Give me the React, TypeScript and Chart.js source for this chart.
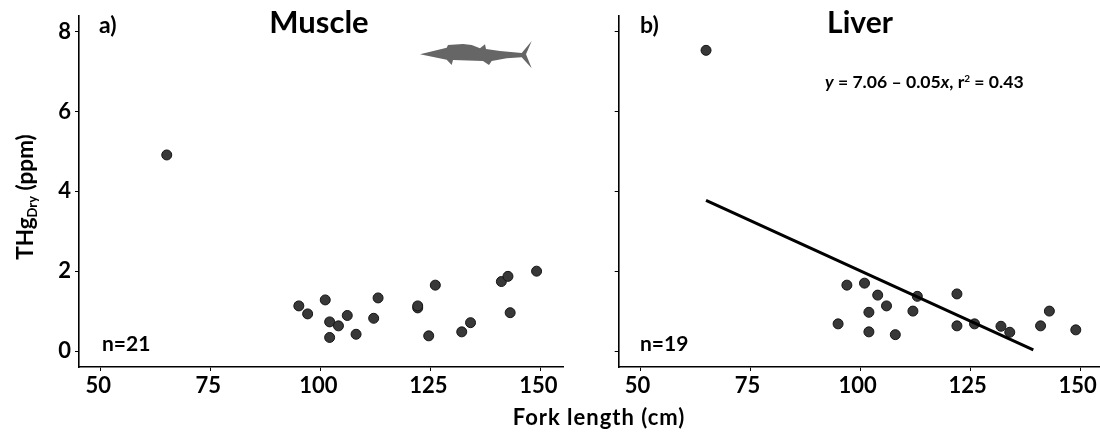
import React, { useEffect, useRef } from "react";
import { Chart, registerables } from "chart.js";

Chart.register(...registerables);

const xTicks = [50, 75, 100, 125, 150];
const yTicks = [0, 2, 4, 6, 8];

const muscleLength = [65, 95, 97, 101, 102, 102, 104, 106, 108, 112, 113, 122, 122, 124.5, 126, 132, 134, 141, 142.5, 143, 149];
const muscleHg = [4.91, 1.13, 0.93, 1.28, 0.73, 0.34, 0.63, 0.89, 0.42, 0.82, 1.33, 1.08, 1.13, 0.38, 1.65, 0.48, 0.71, 1.74, 1.87, 0.96, 2.0];

const liverLength = [65, 95, 97, 101, 102, 102, 104, 106, 108, 112, 113, 122, 122, 126, 132, 134, 141, 143, 149];
const liverHg = [7.53, 0.68, 1.65, 1.7, 0.97, 0.48, 1.4, 1.13, 0.41, 1.0, 1.37, 1.43, 0.63, 0.68, 0.62, 0.47, 0.63, 1.0, 0.53];

const fitLength = [65, 139.35];
const fitHg = [3.77, 0.03];

const FONT = "Lato, 'Open Sans', sans-serif";
const font = (size: number, italic = false) => `${italic ? "italic " : ""}bold ${size}px ${FONT}`;

function text(ctx: CanvasRenderingContext2D, s: string, x: number, y: number, size: number, align: CanvasTextAlign = "left", italic = false) {
  ctx.font = font(size, italic);
  ctx.textAlign = align;
  ctx.textBaseline = "alphabetic";
  ctx.fillStyle = "#000";
  ctx.fillText(s, x, y);
}

// Runs of text in mixed styles, left to right
function runs(ctx: CanvasRenderingContext2D, parts: [string, number, boolean?, number?][], x: number, y: number) {
  let cx = x;
  for (const [s, size, italic, dy] of parts) {
    text(ctx, s, cx, y + (dy || 0), size, "left", !!italic);
    cx += ctx.measureText(s).width;
  }
}

const fishOutline = [
  [420, 54.3], [446.7, 47.7], [448, 45], [463, 44], [471.7, 45], [480, 48.3], [485, 44.3], [486, 49],
  [500, 51], [521.7, 53], [531.7, 41], [526, 54.3], [531.7, 68.3], [521.7, 57.3], [506.7, 58.3],
  [491.7, 61], [489, 65], [483, 61], [453, 60], [451.7, 65], [446.7, 59.7],
];

const leftDecor = {
  id: "leftDecor",
  afterDraw(chart: any) {
    const ctx = chart.ctx as CanvasRenderingContext2D;
    ctx.save();
    text(ctx, "a)", 99, 33, 23);
    text(ctx, "Muscle", 319, 33, 31, "center");
    text(ctx, "n=21", 102, 351, 21);
    (ctx as any).letterSpacing = "1px";
    text(ctx, "Fork length (cm)", 599, 425, 22, "center");
    (ctx as any).letterSpacing = "0px";
    ctx.fillStyle = "#666";
    ctx.beginPath();
    fishOutline.forEach(([x, y], i) => (i ? ctx.lineTo(x, y) : ctx.moveTo(x, y)));
    ctx.closePath();
    ctx.fill();
    ctx.translate(33, 197);
    ctx.rotate(-Math.PI / 2);
    const parts: [string, number, boolean?, number?][] = [["THg", 22.5], ["Dry", 13, false, 4], [" (ppm)", 22.5]];
    let w = 0;
    parts.forEach(([s, size]) => { ctx.font = font(size); w += ctx.measureText(s).width; });
    runs(ctx, parts, -w / 2, 0);
    ctx.restore();
  },
};

const rightDecor = {
  id: "rightDecor",
  afterDraw(chart: any) {
    const ctx = chart.ctx as CanvasRenderingContext2D;
    ctx.save();
    text(ctx, "b)", 640, 33, 23);
    text(ctx, "Liver", 860, 33, 30, "center");
    text(ctx, "n=19", 640, 351, 21);
    runs(ctx, [["y", 17.6, true], [" = 7.06 – 0.05", 17.6], ["x", 17.6, true], [", r", 17.6], ["2", 10, false, -6], [" = 0.43", 17.6]], 825, 88);
    ctx.restore();
  },
};

function makeOptions(xMin: number, xMax: number, yWidth: number, paddingRight: number, showY: boolean) {
  const grid = { display: true, drawOnChartArea: false, drawTicks: true, tickLength: 4, color: "#000", lineWidth: 1 };
  const border = { display: true, color: "#000", width: 1.6 };
  return {
    responsive: false,
    animation: false as const,
    layout: { padding: { left: 0, right: paddingRight, top: 16, bottom: 0 } },
    plugins: { legend: { display: false }, tooltip: { enabled: false }, title: { display: false } },
    scales: {
      x: {
        type: "linear" as const,
        min: xMin,
        max: xMax,
        grid,
        border,
        afterBuildTicks: (s: any) => { s.ticks = xTicks.map((value) => ({ value })); },
        afterFit: (s: any) => { s.height = 65; },
        ticks: { color: "#000", font: { family: FONT, weight: "bold" as const, size: 22 }, padding: 2, maxRotation: 0, labelOffset: -2.5, autoSkip: false },
      },
      y: {
        type: "linear" as const,
        min: -0.4,
        max: 8.39,
        grid,
        border,
        afterBuildTicks: (s: any) => { s.ticks = yTicks.map((value) => ({ value })); },
        afterFit: (s: any) => { s.width = yWidth; },
        ticks: {
          color: "#000",
          font: { family: FONT, weight: "bold" as const, size: 22, lineHeight: 1 },
          padding: 4,
          callback: (v: any) => (showY ? String(v) : ""),
        },
      },
    },
  };
}

const pts = (xs: number[], ys: number[]) => xs.map((x, i) => ({ x, y: ys[i] }));
const pointStyle = { showLine: false, pointRadius: 5, pointBackgroundColor: "#383838", pointBorderColor: "#151515", pointBorderWidth: 1 };

export default function App() {
  const leftRef = useRef<HTMLCanvasElement>(null);
  const rightRef = useRef<HTMLCanvasElement>(null);

  useEffect(() => {
    const left = new Chart(leftRef.current!, {
      type: "scatter",
      data: { datasets: [{ label: "Muscle", data: pts(muscleLength, muscleHg), ...pointStyle }] },
      options: makeOptions(45.07, 155, 79, 557, true) as any,
      plugins: [leftDecor],
    });
    const right = new Chart(rightRef.current!, {
      type: "scatter",
      data: {
        datasets: [
          { label: "Fit", data: pts(fitLength, fitHg), showLine: true, pointRadius: 0, borderColor: "#000", borderWidth: 3 } as any,
          { label: "Liver", data: pts(liverLength, liverHg), ...pointStyle },
        ],
      },
      options: makeOptions(45.16, 154.5, 618.7, 20, false) as any,
      plugins: [rightDecor],
    });
    return () => { left.destroy(); right.destroy(); };
  }, []);

  return (
    <div style={{ position: "absolute", left: 0, top: 0, width: 1100, height: 432, background: "#fff", overflow: "hidden" }}>
      <canvas ref={leftRef} width={1120} height={432} style={{ position: "absolute", left: 0, top: 0 }} />
      <canvas ref={rightRef} width={1120} height={432} style={{ position: "absolute", left: 0, top: 0 }} />
    </div>
  );
}
